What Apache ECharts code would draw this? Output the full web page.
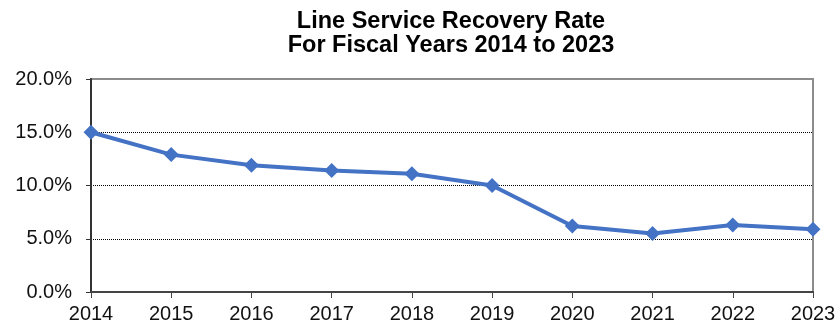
<!DOCTYPE html>
<html>
<head>
<meta charset="utf-8">
<script src="https://cdn.jsdelivr.net/npm/echarts@6/dist/echarts.min.js"></script>
<style>
  html, body { margin: 0; padding: 0; background: #fff; }
  #chart { width: 840px; height: 331px; }
</style>
</head>
<body>
<div id="chart"></div>
<script>
// Fiscal years and line service recovery rate (%)
const years = ['2014', '2015', '2016', '2017', '2018', '2019', '2020', '2021', '2022', '2023'];
const recoveryRate = [15.0, 12.9, 11.9, 11.4, 11.1, 10.0, 6.2, 5.5, 6.3, 5.9];
const titleLines = ['Line Service Recovery Rate', 'For Fiscal Years 2014 to 2023'];

const font = '"Liberation Sans", Arial, sans-serif';
const chart = echarts.init(document.getElementById('chart'), null, { renderer: 'canvas' });

chart.setOption({
  animation: false,
  backgroundColor: '#fff',
  title: {
    text: titleLines.join('\n'),
    left: 446,
    top: 5,
    textAlign: 'center',
    textStyle: {
      fontFamily: font,
      fontWeight: 'bold',
      fontSize: 23.5,
      lineHeight: 24,
      color: '#000'
    }
  },
  grid: {
    left: 91,
    right: 27,
    top: 79,
    bottom: 39,
    show: true,
    borderColor: '#8c8c8c',
    borderWidth: 2,
    containLabel: false
  },
  xAxis: {
    type: 'category',
    data: years,
    boundaryGap: false,
    axisLine: { lineStyle: { color: '#444', width: 2 } },
    axisTick: { show: true, length: 6, inside: false, lineStyle: { color: '#444', width: 1 } },
    axisLabel: { fontFamily: font, fontSize: 20, color: '#111', margin: 12 },
    splitLine: { show: false }
  },
  yAxis: {
    type: 'value',
    min: 0,
    max: 20,
    interval: 5,
    axisLine: { show: true, lineStyle: { color: '#333', width: 2 } },
    axisTick: { show: true, length: 5, lineStyle: { color: '#333', width: 1 } },
    axisLabel: {
      fontFamily: font,
      fontSize: 20,
      color: '#111',
      margin: 19,
      formatter: v => v.toFixed(1) + '%'
    },
    splitLine: {
      show: true,
      lineStyle: {
        type: 'dotted',
        width: 1,
        color: ['rgba(0,0,0,0)', '#000', '#000', '#000', 'rgba(0,0,0,0)']
      }
    }
  },
  series: [{
    type: 'line',
    data: recoveryRate,
    symbol: 'diamond',
    symbolSize: 15,
    lineStyle: { color: '#4472c4', width: 4 },
    itemStyle: { color: '#4472c4' },
    z: 5
  }]
});
</script>
</body>
</html>
